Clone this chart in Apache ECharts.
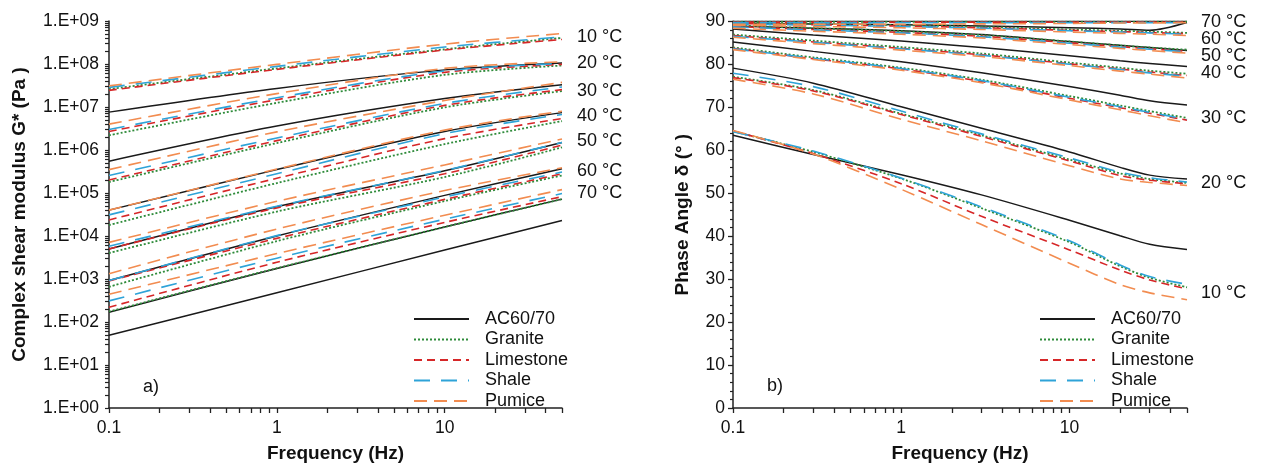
<!DOCTYPE html>
<html><head><meta charset="utf-8">
<script src="https://cdn.jsdelivr.net/npm/echarts@6/dist/echarts.min.js"></script>
<style>html,body{margin:0;padding:0;background:#fff}#c{width:1262px;height:468px}</style>
</head><body><div id="c"></div>
<script>
// ---------- data ----------
const materials = ['AC60/70', 'Granite', 'Limestone', 'Shale', 'Pumice'];
const temperatures = ['10 °C', '20 °C', '30 °C', '40 °C', '50 °C', '60 °C', '70 °C'];

// a) complex shear modulus G* (Pa), rows = 10..70 °C, columns = freqG
const freqG = [0.1, 1, 10, 50];
const gAC = [
  [7.6e6, 2.7e7, 7.3e7, 1.06e8],
  [5.5e5, 3.6e6, 1.57e7, 3.3e7],
  [4.0e4, 3.5e5, 2.7e6, 7.4e6],
  [5.0e3, 4.8e4, 3.3e5, 1.5e6],
  [9.2e2, 1.0e4, 8.8e4, 3.65e5],
  [1.68e2, 1.76e3, 1.62e4, 7.2e4],
  [49, 480, 4.7e3, 2.3e4]
];
const gGranite = [
  [2.6e7, 7.9e7, 2.2e8, 4.05e8],
  [2.2e6, 1.25e7, 5.6e7, 9.2e7],
  [1.8e5, 1.45e6, 9.8e6, 2.34e7],
  [1.8e4, 1.7e5, 1.37e6, 4.7e6],
  [4.0e3, 3.7e4, 2.35e5, 1.15e6],
  [6.6e2, 7.6e3, 6.5e4, 2.56e5],
  [1.75e2, 1.78e3, 1.62e4, 7.2e4]
];
const gLimestone = [
  [2.44e7, 7.5e7, 2.11e8, 3.72e8],
  [2.7e6, 1.48e7, 6.4e7, 9.8e7],
  [2.0e5, 1.65e6, 1.09e7, 2.53e7],
  [2.36e4, 2.2e5, 1.84e6, 5.4e6],
  [5.0e3, 4.5e4, 2.8e5, 1.3e6],
  [9.0e2, 8.8e3, 7.1e4, 2.8e5],
  [2.2e2, 2.45e3, 2.07e4, 8.2e4]
];
const gShale = [
  [2.86e7, 8.8e7, 2.48e8, 4.27e8],
  [3.0e6, 1.64e7, 6.9e7, 1.03e8],
  [2.56e5, 1.9e6, 1.21e7, 2.92e7],
  [3.1e4, 2.8e5, 2.4e6, 6.7e6],
  [5.8e3, 4.9e4, 3.34e5, 1.5e6],
  [9.2e2, 1.02e4, 8.1e4, 3.07e5],
  [3.1e2, 3.05e3, 2.46e4, 9.7e4]
];
const gPumice = [
  [3.1e7, 9.8e7, 2.9e8, 5.1e8],
  [4.0e6, 2.05e7, 7.9e7, 1.12e8],
  [3.5e5, 2.64e6, 1.42e7, 3.73e7],
  [4.0e4, 3.6e5, 2.9e6, 8.0e6],
  [7.1e3, 6.4e4, 4.5e5, 1.8e6],
  [1.33e3, 1.45e4, 1.14e5, 3.85e5],
  [4.4e2, 3.9e3, 3.04e4, 1.2e5]
];

// b) phase angle δ (°), rows = 10..70 °C, columns = freqD
const freqD = [0.1, 0.3, 1, 3, 10, 20, 30, 50];
const dAC = [
  [63.5, 59.0, 54.3, 49.6, 43.7, 40.1, 38.1, 36.9],
  [79.1, 75.6, 70.1, 65.1, 59.6, 56.0, 54.2, 53.3],
  [85.2, 83.0, 80.6, 78.0, 74.8, 72.8, 71.5, 70.5],
  [88.2, 86.8, 85.4, 83.9, 82.0, 80.8, 80.2, 79.5],
  [88.9, 88.4, 87.8, 86.9, 85.3, 84.4, 83.9, 83.2],
  [89.6, 89.4, 89.2, 88.9, 88.5, 88.2, 87.9, 89.7],
  [90.0, 90.0, 90.0, 90.0, 90.0, 90.0, 90.0, 90.0]
];
const dGranite = [
  [64.4, 59.6, 53.4, 46.5, 38.6, 33.0, 30.3, 28.1],
  [77.1, 74.0, 68.5, 63.5, 57.8, 54.6, 53.3, 52.4],
  [83.9, 81.6, 79.2, 76.4, 72.6, 70.4, 69.1, 67.5],
  [86.9, 85.5, 84.0, 82.5, 80.4, 79.2, 78.5, 77.8],
  [89.1, 88.4, 87.7, 86.8, 85.3, 84.4, 83.9, 83.4],
  [89.7, 89.4, 89.1, 88.7, 88.1, 87.8, 87.6, 87.3],
  [89.9, 89.9, 89.9, 89.9, 89.9, 89.9, 89.9, 89.9]
];
const dLimestone = [
  [64.5, 59.2, 52.2, 44.6, 36.8, 32.1, 29.8, 27.7],
  [76.9, 73.8, 68.3, 63.2, 57.5, 54.1, 53.0, 52.2],
  [83.7, 81.3, 78.9, 76.0, 72.1, 69.9, 68.6, 67.0],
  [86.7, 85.2, 83.7, 82.2, 80.1, 78.9, 78.2, 77.4],
  [88.8, 88.1, 87.4, 86.5, 85.0, 84.1, 83.6, 83.0],
  [89.5, 89.2, 88.9, 88.5, 87.9, 87.6, 87.4, 87.1],
  [89.8, 89.8, 89.8, 89.8, 89.8, 89.8, 89.8, 89.8]
];
const dShale = [
  [64.3, 59.8, 53.5, 46.8, 38.9, 33.3, 30.6, 28.8],
  [77.9, 74.8, 69.1, 63.8, 58.2, 54.9, 53.6, 52.6],
  [83.6, 81.4, 79.0, 76.2, 72.3, 70.1, 68.8, 67.2],
  [86.5, 85.1, 83.6, 82.1, 80.0, 78.8, 78.0, 77.2],
  [88.7, 88.0, 87.3, 86.4, 84.9, 84.0, 83.5, 82.9],
  [89.4, 89.1, 88.8, 88.4, 87.8, 87.5, 87.3, 87.0],
  [89.7, 89.7, 89.7, 89.7, 89.7, 89.7, 89.7, 89.7]
];
const dPumice = [
  [64.6, 59.1, 50.9, 42.7, 33.7, 28.7, 26.8, 25.2],
  [76.5, 73.1, 67.2, 62.2, 56.4, 53.3, 52.5, 51.8],
  [83.4, 81.1, 78.6, 75.7, 71.7, 69.4, 68.0, 66.4],
  [86.3, 84.8, 83.3, 81.8, 79.7, 78.4, 77.7, 76.8],
  [88.4, 87.7, 87.0, 86.1, 84.6, 83.7, 83.2, 82.6],
  [89.1, 88.8, 88.5, 88.1, 87.5, 87.2, 87.0, 86.7],
  [89.3, 89.3, 89.3, 89.4, 89.5, 89.6, 89.6, 89.7]
];

const xTickLabels = ['0.1', '1', '10'];

// ---------- chart ----------
const FONT = "'Liberation Sans', Arial, sans-serif";
const gSets = [gAC, gGranite, gLimestone, gShale, gPumice];
const dSets = [dAC, dGranite, dLimestone, dShale, dPumice];
const styles = [
  { color: '#1a1a1a', type: 'solid', width: 1.5 },
  { color: '#2e8b3a', type: [2, 2], width: 1.8 },
  { color: '#d62728', type: [8, 5], width: 1.6 },
  { color: '#2ea3d8', type: [16, 11], width: 1.6 },
  { color: '#f28c50', type: [13, 7], width: 1.6 }
];

const series = [];
materials.forEach((m, mi) => {
  gSets[mi].forEach((row) => {
    series.push({
      name: m, type: 'line', xAxisIndex: 0, yAxisIndex: 0,
      symbol: 'none', showSymbol: false, smooth: 0.3, animation: false,
      lineStyle: styles[mi], itemStyle: { color: styles[mi].color },
      data: freqG.map((f, i) => [f, row[i]])
    });
  });
  dSets[mi].forEach((row) => {
    series.push({
      name: m, type: 'line', xAxisIndex: 1, yAxisIndex: 1,
      symbol: 'none', showSymbol: false, smooth: 0.3, animation: false,
      lineStyle: styles[mi], itemStyle: { color: styles[mi].color },
      data: freqD.map((f, i) => [f, row[i]])
    });
  });
});

const xMinor = [];
for (let m = 1; m <= 9; m++) xMinor.push(+(m * 0.1).toFixed(1));
for (let m = 1; m <= 9; m++) xMinor.push(m);
for (let m = 1; m <= 5; m++) xMinor.push(m * 10);
const yTicksL = [];
for (let e = 0; e < 9; e++) for (let m = 1; m <= 9; m++) yTicksL.push(m * Math.pow(10, e));
yTicksL.push(1e9);
const yLabelsL = [];
for (let e = 0; e <= 9; e++) yLabelsL.push(Math.pow(10, e));

const axisLine = { show: true, onZero: false, lineStyle: { color: '#222', width: 1.5 } };
const labelStyle = { fontFamily: FONT, fontSize: 17.5, color: '#111' };
const nameStyle = { fontFamily: FONT, fontSize: 19, fontWeight: 'bold', color: '#111' };

function xAxis(gi) {
  return {
    gridIndex: gi, type: 'log', logBase: 10, min: 0.1, max: 50,
    axisLine: axisLine, splitLine: { show: false },
    axisTick: { show: true, length: 5, customValues: xMinor, lineStyle: { color: '#222', width: 1.3 } },
    axisLabel: Object.assign({ margin: 11, customValues: [0.1, 1, 10],
      formatter: v => (v < 0.5 ? xTickLabels[0] : v < 5 ? xTickLabels[1] : xTickLabels[2]) }, labelStyle),
    name: 'Frequency (Hz)', nameLocation: 'middle', nameGap: 36, nameTextStyle: nameStyle
  };
}

function legend(left) {
  return {
    data: materials, left: left, top: 310, orient: 'vertical', padding: 0,
    itemWidth: 55, itemHeight: 14, itemGap: 2.5, selectedMode: false,
    itemStyle: { opacity: 0, borderWidth: 0 },
    textStyle: { fontFamily: FONT, fontSize: 18, color: '#111', lineHeight: 18, padding: [0, 0, 0, 11] }
  };
}

const option = {
  backgroundColor: '#fff',
  animation: false,
  grid: [
    { left: 109, top: 21, width: 453, height: 390.7 },
    { left: 733, top: 21.3, width: 454, height: 389.7 }
  ],
  xAxis: [xAxis(0), xAxis(1)],
  yAxis: [
    {
      gridIndex: 0, type: 'log', logBase: 10, min: 1, max: 1e9,
      axisLine: axisLine, splitLine: { show: false },
      axisTick: { show: true, length: 4, customValues: yTicksL, lineStyle: { color: '#222', width: 1.2 } },
      axisLabel: Object.assign({ margin: 10, customValues: yLabelsL,
        formatter: v => { const e = Math.round(Math.log10(v)); return '1.E' + (e < 0 ? '-' : '+') + String(Math.abs(e)).padStart(2, '0'); } }, labelStyle),
      name: 'Complex shear modulus G* (Pa )', nameLocation: 'middle', nameGap: 80, nameTextStyle: nameStyle
    },
    {
      gridIndex: 1, type: 'value', min: 0, max: 90, interval: 10,
      axisLine: axisLine, splitLine: { show: false },
      axisTick: { show: true, length: 5, lineStyle: { color: '#222', width: 1.3 } },
      minorTick: { show: true, splitNumber: 5, length: 3, lineStyle: { color: '#222', width: 1.2 } },
      axisLabel: Object.assign({ margin: 8 }, labelStyle),
      name: 'Phase Angle δ (° )', nameLocation: 'middle', nameGap: 41, nameTextStyle: nameStyle
    }
  ],
  legend: [legend(413), legend(1039)],
  graphic: [],
  series: series
};

const tLeftY = [36.7, 63.3, 90.7, 115.7, 140.7, 170.7, 192.7];
const tRightY = [293.3, 183.3, 118.3, 72.7, 56, 39.3, 21.7];
temperatures.forEach((t, i) => {
  option.graphic.push({ type: 'text', x: 577, y: tLeftY[i], style: { text: t, font: '18px ' + FONT, fill: '#111', verticalAlign: 'middle' } });
  option.graphic.push({ type: 'text', x: 1201, y: tRightY[i], style: { text: t, font: '18px ' + FONT, fill: '#111', verticalAlign: 'middle' } });
});
option.graphic.push({ type: 'text', x: 143, y: 387, style: { text: 'a)', font: '18px ' + FONT, fill: '#111', verticalAlign: 'middle' } });
option.graphic.push({ type: 'text', x: 767, y: 386, style: { text: 'b)', font: '18px ' + FONT, fill: '#111', verticalAlign: 'middle' } });

const chart = echarts.init(document.getElementById('c'), null, { renderer: 'canvas' });
chart.setOption(option);
</script>
</body></html>
